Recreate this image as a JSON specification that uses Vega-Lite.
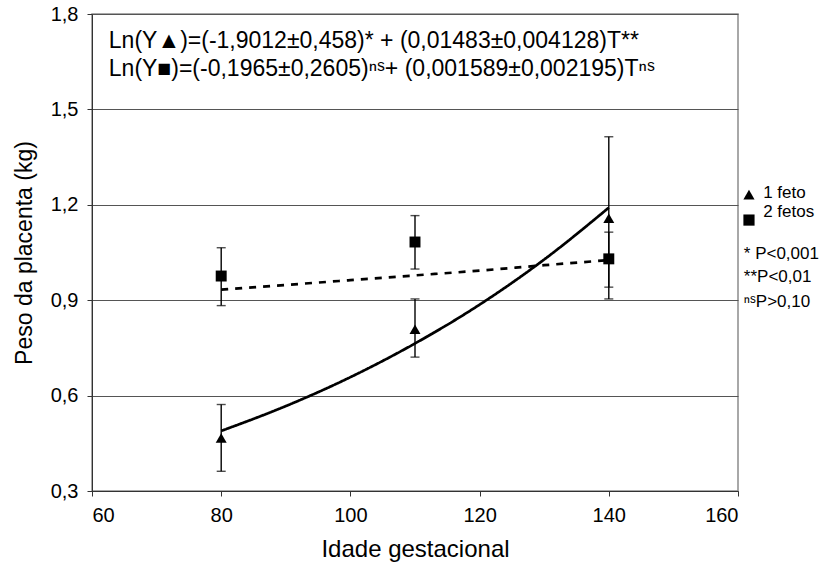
{
  "$schema": "https://vega.github.io/schema/vega-lite/v6.json",
  "width": 646,
  "height": 477,
  "autosize": "none",
  "padding": {"left": 92, "top": 14, "right": 90, "bottom": 82},
  "background": "white",
  "config": {
    "font": "Liberation Sans, Arial, DejaVu Sans",
    "view": {"stroke": "#8c8c8c", "strokeWidth": 1.5},
    "axis": {"labelFont": "Liberation Sans", "titleFont": "Liberation Sans", "labelColor": "#000", "titleColor": "#000", "titleFontWeight": "normal", "domainColor": "#333", "tickColor": "#333", "labelFontSize": 20, "titleFontSize": 24}
  },
  "datasets": {
    "pts": [
      {"T": 80, "group": "1 feto", "y": 0.467, "lo": 0.362, "hi": 0.572},
      {"T": 110, "group": "1 feto", "y": 0.809, "lo": 0.721, "hi": 0.904},
      {"T": 140, "group": "1 feto", "y": 1.158, "lo": 0.904, "hi": 1.414},
      {"T": 80, "group": "2 fetos", "y": 0.976, "lo": 0.883, "hi": 1.065},
      {"T": 110, "group": "2 fetos", "y": 1.083, "lo": 0.998, "hi": 1.166},
      {"T": 140, "group": "2 fetos", "y": 1.03, "lo": 0.941, "hi": 1.114}
    ],
    "fit": [
      {"T": 80, "group": "1 feto", "v": 0.489},
      {"T": 90, "group": "1 feto", "v": 0.567},
      {"T": 100, "group": "1 feto", "v": 0.658},
      {"T": 110, "group": "1 feto", "v": 0.764},
      {"T": 120, "group": "1 feto", "v": 0.886},
      {"T": 130, "group": "1 feto", "v": 1.028},
      {"T": 140, "group": "1 feto", "v": 1.191},
      {"T": 80, "group": "2 fetos", "v": 0.933},
      {"T": 90, "group": "2 fetos", "v": 0.948},
      {"T": 100, "group": "2 fetos", "v": 0.963},
      {"T": 110, "group": "2 fetos", "v": 0.978},
      {"T": 120, "group": "2 fetos", "v": 0.993},
      {"T": 130, "group": "2 fetos", "v": 1.01},
      {"T": 140, "group": "2 fetos", "v": 1.026}
    ],
    "eq": [
      {"x": 62.6, "y": 1.715, "text": "Ln(Y▲)=(-1,9012±0,458)* + (0,01483±0,004128)T**"},
      {"x": 62.6, "y": 1.628, "text": "Ln(Y■)=(-0,1965±0,2605)ⁿˢ+ (0,001589±0,002195)Tⁿˢ"}
    ],
    "legsym": [
      {"x": 161.7, "y": 1.232, "group": "1 feto"},
      {"x": 161.7, "y": 1.152, "group": "2 fetos"}
    ],
    "legtxt": [
      {"x": 163.9, "y": 1.237, "text": "1 feto"},
      {"x": 163.9, "y": 1.177, "text": "2 fetos"},
      {"x": 160.9, "y": 1.045, "text": "*  P<0,001"},
      {"x": 160.9, "y": 0.973, "text": "**P<0,01"},
      {"x": 160.9, "y": 0.894, "text": "ⁿˢP>0,10"}
    ]
  },
  "layer": [
    {
      "data": {"name": "fit"},
      "mark": {"type": "line", "color": "#000", "strokeWidth": 2.7, "interpolate": "monotone"},
      "encoding": {
        "x": {"field": "T", "type": "quantitative", "scale": {"domain": [60, 160], "nice": false},
          "axis": {"title": "Idade gestacional", "values": [60, 80, 100, 120, 140, 160], "grid": false, "tickSize": 5, "labelPadding": 9, "titlePadding": 12}},
        "y": {"field": "v", "type": "quantitative", "scale": {"domain": [0.3, 1.8], "nice": false},
          "axis": {"title": "Peso da placenta (kg)", "titleFontSize": 23, "values": [0.3, 0.6, 0.9, 1.2, 1.5, 1.8], "grid": true, "gridColor": "#555", "gridWidth": 1, "tickSize": 5, "labelPadding": 9, "titlePadding": 14,
            "labelExpr": "replace(format(datum.value, '.1f'), '.', ',')"}},
        "strokeDash": {"field": "group", "type": "nominal", "scale": {"domain": ["1 feto", "2 fetos"], "range": [[1, 0], [7, 7]]}, "legend": null},
        "detail": {"field": "group"}
      }
    },
    {
      "data": {"name": "pts"},
      "mark": {"type": "rule", "color": "#000", "strokeWidth": 1.4},
      "encoding": {
        "x": {"field": "T", "type": "quantitative"},
        "y": {"field": "lo", "type": "quantitative"},
        "y2": {"field": "hi"}
      }
    },
    {
      "data": {"name": "pts"},
      "mark": {"type": "tick", "orient": "horizontal", "color": "#000", "size": 9, "thickness": 1.4},
      "encoding": {
        "x": {"field": "T", "type": "quantitative"},
        "y": {"field": "lo", "type": "quantitative"}
      }
    },
    {
      "data": {"name": "pts"},
      "mark": {"type": "tick", "orient": "horizontal", "color": "#000", "size": 9, "thickness": 1.4},
      "encoding": {
        "x": {"field": "T", "type": "quantitative"},
        "y": {"field": "hi", "type": "quantitative"}
      }
    },
    {
      "data": {"name": "pts"},
      "mark": {"type": "point", "filled": true, "color": "#000", "opacity": 1, "size": 120},
      "encoding": {
        "x": {"field": "T", "type": "quantitative"},
        "y": {"field": "y", "type": "quantitative"},
        "shape": {"field": "group", "type": "nominal", "scale": {"domain": ["1 feto", "2 fetos"], "range": ["triangle-up", "square"]}, "legend": null}
      }
    },
    {
      "data": {"name": "legsym"},
      "mark": {"type": "point", "filled": true, "color": "#000", "opacity": 1, "size": 125},
      "encoding": {
        "x": {"field": "x", "type": "quantitative"},
        "y": {"field": "y", "type": "quantitative"},
        "shape": {"field": "group", "type": "nominal", "legend": null}
      }
    },
    {
      "data": {"name": "eq"},
      "mark": {"type": "text", "align": "left", "baseline": "middle", "fontSize": 23, "font": "Liberation Sans, DejaVu Sans", "color": "#000"},
      "encoding": {
        "x": {"field": "x", "type": "quantitative"},
        "y": {"field": "y", "type": "quantitative"},
        "text": {"field": "text"}
      }
    },
    {
      "data": {"name": "legtxt"},
      "mark": {"type": "text", "align": "left", "baseline": "middle", "fontSize": 17, "font": "Liberation Sans, DejaVu Sans", "color": "#000"},
      "encoding": {
        "x": {"field": "x", "type": "quantitative"},
        "y": {"field": "y", "type": "quantitative"},
        "text": {"field": "text"}
      }
    }
  ]
}
